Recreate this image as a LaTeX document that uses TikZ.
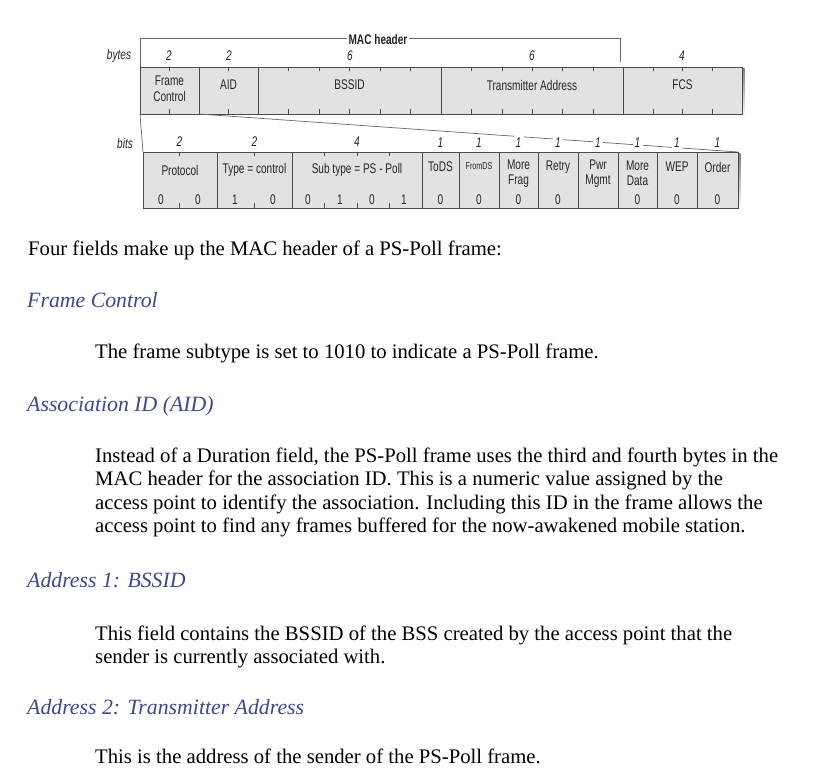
\documentclass[tikz,border=0pt]{standalone}
\usepackage{fontspec}
\setmainfont{Liberation Serif}
\newfontfamily\cond{Liberation Sans}[FakeStretch=0.72]
\definecolor{boxfill}{RGB}{226,226,226}
\definecolor{boxline}{RGB}{75,75,75}
\definecolor{shade}{RGB}{175,175,175}
\definecolor{headblue}{RGB}{62,72,140}
\begin{document}
\begin{tikzpicture}[x=1pt,y=-1pt,
  lbl/.style={font=\cond\fontsize{14}{15.5}\selectfont, inner sep=0pt, align=center, text=black!85},
  tiny/.style={font=\cond\fontsize{10}{11}\selectfont, inner sep=0pt, text=black!85},
  num/.style={font=\cond\itshape\fontsize{14}{15}\selectfont, inner sep=2.2pt, fill=white, text=black!85},
  unit/.style={font=\cond\itshape\fontsize{14}{15}\selectfont, inner sep=0pt, text=black!85},
  field/.style={draw=boxline, fill=boxfill, line width=0.9pt},
  sep/.style={draw=boxline, line width=0.9pt},
  tick/.style={draw=boxline, line width=0.8pt},
  guide/.style={draw=black!60, line width=0.7pt},
  body/.style={font=\fontsize{20.7}{23.5}\selectfont, inner sep=0pt, anchor=base west},
  head/.style={font=\itshape\fontsize{21.8}{23.5}\selectfont, text=headblue, inner sep=0pt, anchor=base west}]
\useasboundingbox (0,0) rectangle (817,778);
% ---------- top (bytes) box ----------
\fill[shade] (142,69) rectangle (744.5,116.5);
\path[field] (140,67) rectangle (742,114);
\foreach \x in {199,258,441,623} \draw[sep] (\x,67) -- (\x,114);
\foreach \x in {169.5,228.5,288.5,319,349.5,380,410.5,471,502,532,562,593,653,682,712}
  {\draw[tick] (\x,67) -- (\x,71.5); \draw[tick] (\x,114) -- (\x,109.5);}
\coordinate (tl) at (140,114);
\coordinate (tr) at (199,114);
\coordinate (bl) at (143,152);
\coordinate (br) at (738,152);
\coordinate (mA) at (140,38);
\coordinate (mB) at (620,38);
\coordinate (mC) at (620,62);
% MAC header bracket
\draw[guide] (mA) -- (mB) -- (mC);
\draw[guide] (mA) -- (140,67);
\node[font=\cond\bfseries\fontsize{14}{15}\selectfont, fill=white, inner sep=2pt, text=black!85] (mac) at (378,39) {MAC header};
\node[unit] (bytes) at (119,56) {bytes};
\node[num] (b1) at (169,56) {2};
\node[num] (b2) at (229,56) {2};
\node[num] (b3) at (350,56) {6};
\node[num] (b4) at (532,56) {6};
\node[num] (b5) at (682,56) {4};
\node[lbl] (fc) at (169.5,89) {Frame\\Control};
\node[lbl] (aid) at (228.5,85) {AID};
\node[lbl] (bssid) at (349.5,85) {BSSID};
\node[lbl] (ta) at (532,85) {Transmitter Address};
\node[lbl] (fcs) at (682.5,85) {FCS};
% expansion lines
\draw[guide] (tl) -- (bl);
\draw[guide] (tr) -- (br);
% ---------- bottom (bits) box ----------
\fill[shade] (145,154) rectangle (740.5,210.5);
\path[field] (143,152) rectangle (738,208);
\foreach \x in {217,292,422,459,499,538,578,618,657,697} \draw[sep] (\x,152) -- (\x,208);
\foreach \x in {179.5,254.5,324.5,357,389.5}
  {\draw[tick] (\x,152) -- (\x,156.5); \draw[tick] (\x,208) -- (\x,203.5);}
\node[unit] (bits) at (125,143) {bits};
\node[num] (c1) at (179.5,142) {2};
\node[num] (c2) at (254.5,142) {2};
\node[num] (c3) at (357,142) {4};
\foreach \x/\n in {440.5/d1,479/d2,518.5/d3,558/d4,598/d5,637.5/d6,677/d7,717.5/d8}
  \node[num] (\n) at (\x,143) {1};
\node[lbl] (proto) at (180,170) {Protocol};
\node[lbl] (type) at (254.5,170) {Type = control};
\node[lbl] (sub) at (357,170) {Sub type = PS - Poll};
\node[lbl] (tods) at (440.5,167) {ToDS};
\node[tiny] (fromds) at (479,166) {FromDS};
\node[lbl] (mfrag) at (518.5,173.5) {More\\Frag};
\node[lbl] (retry) at (558,167) {Retry};
\node[lbl] (pwr) at (598,173.5) {Pwr\\Mgmt};
\node[lbl] (mdata) at (637.5,173.5) {More\\Data};
\node[lbl] (wep) at (677,167) {WEP};
\node[lbl] (order) at (717.5,167) {Order};
\foreach \x/\v/\n in {161/0/v1,198/0/v2,235/1/v3,273/0/v4,308/0/v5,340/1/v6,372/0/v7,404/1/v8,
  440.5/0/v9,479/0/v10,518.5/0/v11,558/0/v12,637.5/0/v13,677/0/v14,717.5/0/v15}
  \node[lbl] (\n) at (\x,200) {\v};
% ---------- text ----------
\node[body] (t1) at (28,256) {Four fields make up the MAC header of a PS-Poll frame:};
\node[head] (h1) at (27,308) {Frame Control};
\node[body] (p1) at (95,358) {The frame subtype is set to 1010 to indicate a PS-Poll frame.};
\node[head] (h2) at (27,411) {Association ID (AID)};
\node[body] (p2a) at (95,462) {Instead of a Duration field, the PS-Poll frame uses the third and fourth bytes in the};
\node[body] (p2b) at (95,485.5) {MAC header for the association ID. This is a numeric value assigned by the};
\node[body] (p2c) at (95,509) {access point to identify the association. Including this ID in the frame allows the};
\node[body] (p2d) at (95,532.5) {access point to find any frames buffered for the now-awakened mobile station.};
\node[head] (h3) at (27,587) {Address 1: BSSID};
\node[body] (p3a) at (95,640) {This field contains the BSSID of the BSS created by the access point that the};
\node[body] (p3b) at (95,663) {sender is currently associated with.};
\node[head] (h4) at (27,714) {Address 2: Transmitter Address};
\node[body] (p4) at (95,763) {This is the address of the sender of the PS-Poll frame.};
\end{tikzpicture}
\end{document}
